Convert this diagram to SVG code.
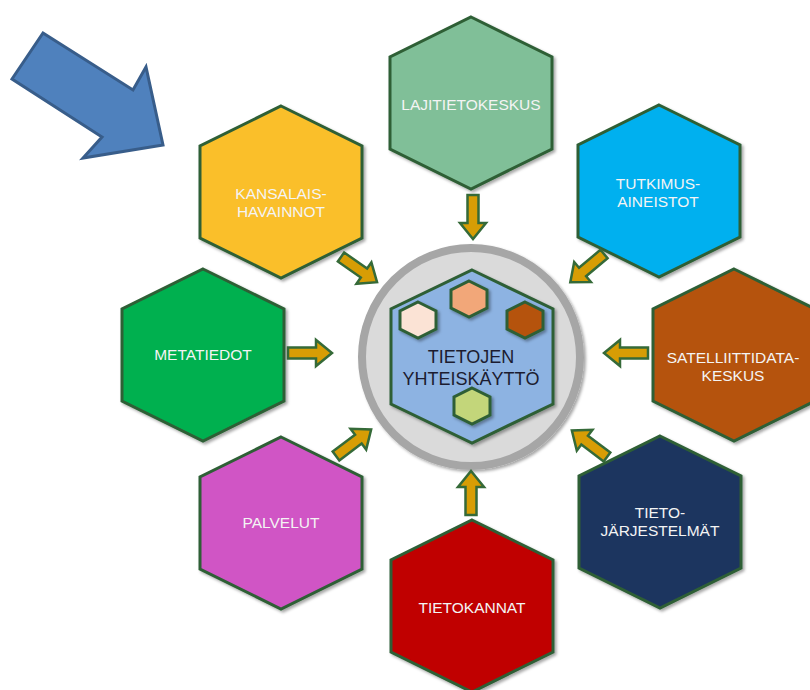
<svg xmlns="http://www.w3.org/2000/svg" xmlns:xlink="http://www.w3.org/1999/xlink" width="810" height="690" viewBox="0 0 810 690">
  <defs>
    <filter id="shadow" x="-20%" y="-20%" width="140%" height="140%">
      <feDropShadow dx="2" dy="2" stdDeviation="1.6" flood-color="#000" flood-opacity="0.35"/>
    </filter>
    <!-- outer hexagon, pointy top, centred on 0,0 -->
    <polygon id="hex" points="0,-86 81,-46 81,46 0,86 -81,46 -81,-46"/>
    <!-- small hexagon inside the hub -->
    <polygon id="hexs" points="0,-18 18,-9 18,9 0,18 -18,9 -18,-9"/>
    <!-- block arrow pointing along +x, tail at origin -->
    <path id="arr" d="M0,-5.5 H28 V-13 L44,0 L28,13 V5.5 H0 Z"/>
  </defs>
  <style>
    .hex { stroke: #2e5f36; stroke-width: 3; stroke-linejoin: miter; filter: url(#shadow); }
    .lbl { font-family: "Liberation Sans", Arial, sans-serif; font-size: 15.5px; fill: #f4f4f4; text-anchor: middle; text-transform: uppercase; }
    .hub { font-family: "Liberation Sans", Arial, sans-serif; font-size: 18px; fill: #1c1c30; text-anchor: middle; text-transform: uppercase; }
    .arr { fill: #d79d05; stroke: #356a38; stroke-width: 2.5; stroke-linejoin: miter; }
  </style>

  <rect width="810" height="690" fill="#ffffff"/>

  <!-- big blue pointer arrow -->
  <g id="pointer">
    <polygon points="43,33 133,90 146,67 163,145 83,158 102,137 12,79" fill="#4f81bd" stroke="#385d8a" stroke-width="3" stroke-linejoin="miter"/>
  </g>

  <!-- central hub -->
  <g id="hub">
    <circle cx="471" cy="357" r="109" fill="#dadada" stroke="#a6a6a6" stroke-width="8" filter="url(#shadow)"/>
    <polygon points="472,270 553,309 553,404 472,443 391,404 391,309" fill="#8db3e2" stroke="#2e5f36" stroke-width="3" filter="url(#shadow)"/>
    <use href="#hexs" x="418" y="320" class="hex" fill="#fbe3d5"/>
    <use href="#hexs" x="469" y="299" class="hex" fill="#f2a779"/>
    <use href="#hexs" x="525" y="320" class="hex" fill="#b5530f"/>
    <use href="#hexs" x="472" y="406" class="hex" fill="#c3d67a"/>
    <text class="hub" x="471" y="363">TIETOJEN</text>
    <text class="hub" x="471" y="385">YHTEISKÄYTTÖ</text>
  </g>

  <g id="lajitietokeskus">
    <use href="#hex" x="471" y="103" class="hex" fill="#80bf98"/>
    <text class="lbl" x="471" y="110">LAJITIETOKESKUS</text>
  </g>

  <g id="tutkimusaineistot">
    <use href="#hex" x="659" y="191" class="hex" fill="#00b0ef"/>
    <text class="lbl" x="658" y="189">TUTKIMUS-</text>
    <text class="lbl" x="658" y="207">AINEISTOT</text>
  </g>

  <g id="satelliittidatakeskus">
    <use href="#hex" x="734" y="355" class="hex" fill="#b5530f"/>
    <text class="lbl" x="733" y="363">SATELLIITTIDATA-</text>
    <text class="lbl" x="733" y="381">KESKUS</text>
  </g>

  <g id="tietojarjestelmat">
    <use href="#hex" x="660" y="522" class="hex" fill="#1d365f"/>
    <text class="lbl" x="660" y="518">TIETO-</text>
    <text class="lbl" x="660" y="536">JÄRJESTELMÄT</text>
  </g>

  <g id="tietokannat">
    <use href="#hex" x="472" y="606" class="hex" fill="#c00000"/>
    <text class="lbl" x="472" y="613">TIETOKANNAT</text>
  </g>

  <g id="palvelut">
    <use href="#hex" x="281" y="523" class="hex" fill="#d055c5"/>
    <text class="lbl" x="281" y="528">PALVELUT</text>
  </g>

  <g id="metatiedot">
    <use href="#hex" x="203" y="355" class="hex" fill="#00b050"/>
    <text class="lbl" x="203" y="360">METATIEDOT</text>
  </g>

  <g id="kansalaishavainnot">
    <use href="#hex" x="281" y="192" class="hex" fill="#fabf2b"/>
    <text class="lbl" x="281" y="199">KANSALAIS-</text>
    <text class="lbl" x="281" y="217">HAVAINNOT</text>
  </g>

  <!-- connectors: block arrows into the hub -->
  <g id="connectors">
    <use href="#arr" class="arr" transform="translate(473,195) rotate(90)"/>
    <use href="#arr" class="arr" transform="translate(471,515) rotate(-90)"/>
    <use href="#arr" class="arr" transform="translate(648,353) rotate(180)"/>
    <use href="#arr" class="arr" transform="translate(288,353)"/>
    <use href="#arr" class="arr" transform="translate(341,257) rotate(35)"/>
    <use href="#arr" class="arr" transform="translate(604,254) rotate(140)"/>
    <use href="#arr" class="arr" transform="translate(336,456) rotate(-37)"/>
    <use href="#arr" class="arr" transform="translate(607,457) rotate(-143)"/>
  </g>
</svg>
